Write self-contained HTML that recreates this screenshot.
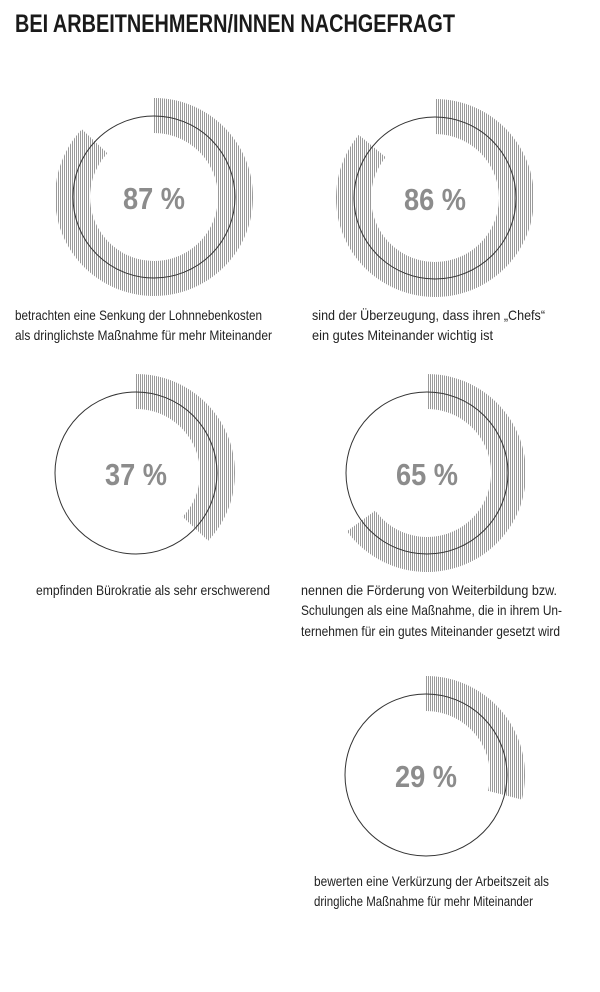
<!DOCTYPE html>
<html><head><meta charset="utf-8"><style>
html,body{margin:0;padding:0;background:#fff;}
svg{display:block;font-family:"Liberation Sans",sans-serif;}
</style></head><body>
<svg id="s" width="600" height="992" viewBox="0 0 600 992" xmlns="http://www.w3.org/2000/svg">
<defs>
<pattern id="h" patternUnits="userSpaceOnUse" width="2" height="10">
<rect x="0" y="0" width="0.9" height="10" fill="#8f8f8f"/>
</pattern>
</defs>
<text x="15" y="32" font-size="25" font-weight="bold" fill="#1a1a1a" textLength="440" lengthAdjust="spacingAndGlyphs">BEI ARBEITNEHMERN/INNEN NACHGEFRAGT</text>
<g id="charts"></g>
<g font-size="14" fill="#222">
<text x="15" y="320" textLength="247" lengthAdjust="spacingAndGlyphs">betrachten eine Senkung der Lohnnebenkosten</text>
<text x="15" y="340" textLength="257" lengthAdjust="spacingAndGlyphs">als dringlichste Maßnahme für mehr Miteinander</text>
<text x="312" y="320" textLength="233" lengthAdjust="spacingAndGlyphs">sind der Überzeugung, dass ihren „Chefs“</text>
<text x="312" y="340" textLength="181" lengthAdjust="spacingAndGlyphs">ein gutes Miteinander wichtig ist</text>
<text x="36" y="595" textLength="234" lengthAdjust="spacingAndGlyphs">empfinden Bürokratie als sehr erschwerend</text>
<text x="301" y="595" textLength="256" lengthAdjust="spacingAndGlyphs">nennen die Förderung von Weiterbildung bzw.</text>
<text x="301" y="615" textLength="261" lengthAdjust="spacingAndGlyphs">Schulungen als eine Maßnahme, die in ihrem Un-</text>
<text x="301" y="636" textLength="259" lengthAdjust="spacingAndGlyphs">ternehmen für ein gutes Miteinander gesetzt wird</text>
<text x="314" y="886" textLength="235" lengthAdjust="spacingAndGlyphs">bewerten eine Verkürzung der Arbeitszeit als</text>
<text x="314" y="906" textLength="219" lengthAdjust="spacingAndGlyphs">dringliche Maßnahme für mehr Miteinander</text>
</g>
</svg>
<script>
var data=[[154,197,87],[435,198,86],[136,473,37],[427,473,65],[426,775,29]];
var g=document.getElementById('charts'),h='';
function pt(cx,cy,r,a){return [cx+r*Math.sin(a),cy-r*Math.cos(a)];}
data.forEach(function(d){
var cx=d[0],cy=d[1],p=d[2],r1=64,r2=99,a=p/100*2*Math.PI,l=p>50?1:0;
var A=pt(cx,cy,r2,0),B=pt(cx,cy,r2,a),C=pt(cx,cy,r1,a),D=pt(cx,cy,r1,0);
h+='<path fill="url(#h)" d="M'+A+' A'+r2+','+r2+' 0 '+l+' 1 '+B+' L'+C+' A'+r1+','+r1+' 0 '+l+' 0 '+D+' Z"/>';
h+='<circle cx="'+cx+'" cy="'+cy+'" r="81" fill="none" stroke="#333" stroke-width="1"/>';
h+='<text x="'+cx+'" y="'+(cy+12)+'" text-anchor="middle" font-size="31" font-weight="bold" fill="#8c8c8c" textLength="62" lengthAdjust="spacingAndGlyphs">'+p+' %</text>';
});
g.innerHTML=h;
</script>
</body></html>
